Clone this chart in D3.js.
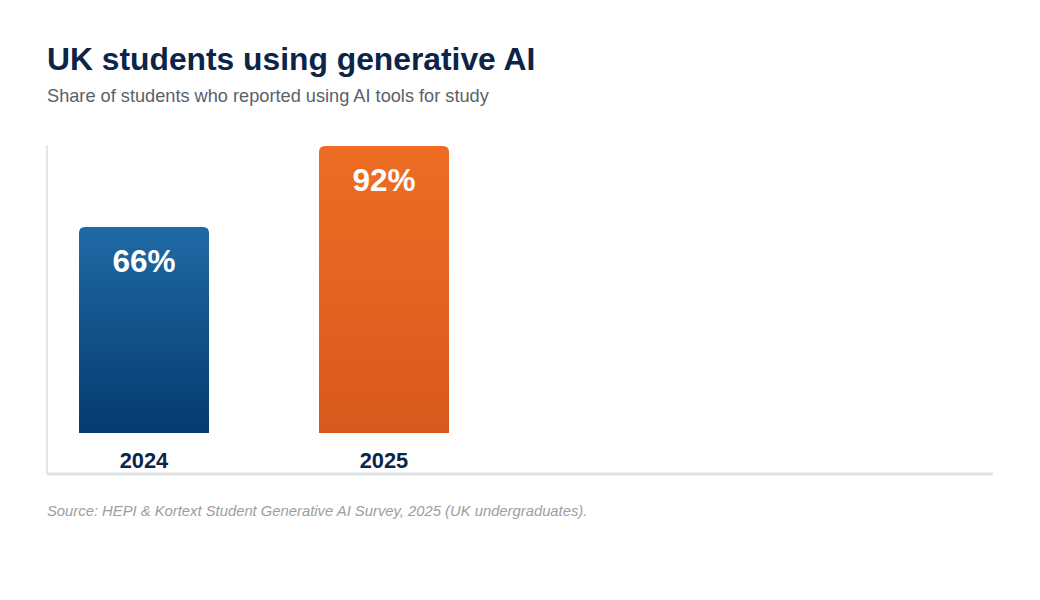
<!DOCTYPE html>
<html><head><meta charset="utf-8">
<script src="https://cdn.jsdelivr.net/npm/d3@7"></script>
<style>
html,body{margin:0;padding:0;background:#fff;}
svg{display:block;font-family:"Liberation Sans",Arial,Helvetica,sans-serif;}
</style></head>
<body><svg id="c" width="1040" height="600"></svg>
<script>
const categories = ["2024", "2025"];
const values = [66, 92];
const valueLabels = ["66%", "92%"];
const title = "UK students using generative AI";
const subtitle = "Share of students who reported using AI tools for study";
const source = "Source: HEPI & Kortext Student Generative AI Survey, 2025 (UK undergraduates).";

const svg = d3.select("#c");
const defs = svg.append("defs");
const grads = [["#1f6aa6", "#053a6f"], ["#ee6d23", "#d9591d"]];
grads.forEach((g, i) => {
  const lg = defs.append("linearGradient").attr("id", "g" + i).attr("x1", 0).attr("y1", 0).attr("x2", 0).attr("y2", 1);
  lg.append("stop").attr("offset", "0%").attr("stop-color", g[0]);
  lg.append("stop").attr("offset", "100%").attr("stop-color", g[1]);
});

svg.append("text").attr("x", 47).attr("y", 70).attr("font-size", 31.8).attr("font-weight", "bold")
  .attr("fill", "#0c2448").text(title);
svg.append("text").attr("x", 47).attr("y", 102).attr("font-size", 18.2)
  .attr("fill", "#5b6168").text(subtitle);

const plot = {left: 47, right: 993, top: 145, bottom: 474};
const baseY = 433;
const xb = d3.scalePoint().domain(categories).range([144, 384]);
const bw = 130;
const y = d3.scaleLinear().domain([0, 92]).range([baseY, 146]);

svg.append("line").attr("x1", plot.left).attr("x2", plot.left).attr("y1", plot.top).attr("y2", plot.bottom)
  .attr("stroke", "#e3e6ea").attr("stroke-width", 2);
svg.append("line").attr("x1", plot.left).attr("x2", plot.right).attr("y1", plot.bottom).attr("y2", plot.bottom)
  .attr("stroke", "#dfe2e7").attr("stroke-width", 3);

const r = 6;
function barPath(x0, w, top, bottom) {
  return `M${x0},${bottom}V${top + r}Q${x0},${top} ${x0 + r},${top}H${x0 + w - r}Q${x0 + w},${top} ${x0 + w},${top + r}V${bottom}Z`;
}
const g = svg.append("g");
g.selectAll("path.bar").data(values).join("path").attr("class", "bar")
  .attr("d", (d, i) => barPath(xb(categories[i]) - bw / 2, bw, y(d), baseY))
  .attr("fill", (d, i) => `url(#g${i})`);
g.selectAll("text.val").data(values).join("text").attr("class", "val")
  .attr("x", (d, i) => xb(categories[i])).attr("y", d => y(d) + 45)
  .attr("text-anchor", "middle").attr("font-size", 31.5).attr("font-weight", "bold").attr("fill", "#fff")
  .text((d, i) => valueLabels[i]);
g.selectAll("text.cat").data(categories).join("text").attr("class", "cat")
  .attr("x", d => xb(d)).attr("y", 468)
  .attr("text-anchor", "middle").attr("font-size", 21.8).attr("font-weight", "bold").attr("fill", "#0c2448")
  .text(d => d);

svg.append("text").attr("x", 47).attr("y", 516).attr("font-size", 14.8).attr("font-style", "italic")
  .attr("fill", "#9a9ea4").text(source);
</script></body></html>
